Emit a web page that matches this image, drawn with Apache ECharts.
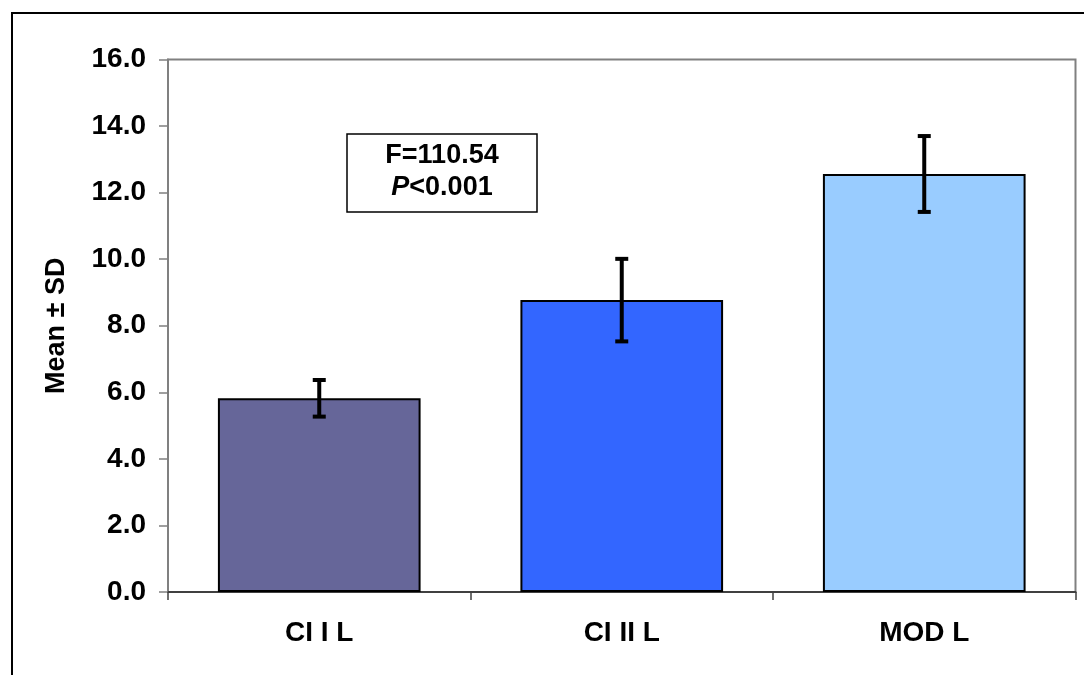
<!DOCTYPE html>
<html>
<head>
<meta charset="utf-8">
<script src="https://cdn.jsdelivr.net/npm/echarts@6/dist/echarts.min.js"></script>
<style>
html,body{margin:0;padding:0;background:#fff;}
#chart{width:1084px;height:675px;}
</style>
</head>
<body>
<div id="chart"></div>
<script>
const categories = ['CI I L', 'CI II L', 'MOD L'];
const means = [5.82, 8.77, 12.56];
const sds = [0.55, 1.24, 1.14];
const barColors = ['#666699', '#3366FF', '#99CCFF'];
const yTicks = [0, 2, 4, 6, 8, 10, 12, 14, 16];
const annotationLines = ['F=110.54', 'P<0.001'];

const chart = echarts.init(document.getElementById('chart'));
const FONT = 'Liberation Sans, Arial, sans-serif';

const errorData = categories.map((c, i) => [i, means[i] - sds[i], means[i] + sds[i]]);

const option = {
  animation: false,
  backgroundColor: '#fff',
  grid: {
    left: 168, top: 59.5, right: 8.5, bottom: 83,
    show: true, borderColor: '#808080', borderWidth: 2, backgroundColor: 'transparent'
  },
  xAxis: {
    type: 'category',
    data: categories,
    axisLine: { show: true, lineStyle: { color: '#404040', width: 2 } },
    axisTick: { show: true, alignWithLabel: false, length: 8, lineStyle: { color: '#404040', width: 1.5 } },
    axisLabel: { color: '#000', fontWeight: 'bold', fontSize: 28, fontFamily: FONT, margin: 27 }
  },
  yAxis: {
    type: 'value',
    min: yTicks[0], max: yTicks[yTicks.length - 1], interval: 2,
    name: 'Mean ± SD',
    nameLocation: 'middle',
    nameRotate: 90,
    nameGap: 98,
    nameTextStyle: { color: '#000', fontWeight: 'bold', fontSize: 27, fontFamily: FONT },
    axisLine: { show: true, lineStyle: { color: '#808080', width: 2 } },
    axisTick: { show: true, length: 9, lineStyle: { color: '#808080', width: 1.5 } },
    splitLine: { show: false },
    axisLabel: {
      color: '#000', fontWeight: 'bold', fontSize: 28, fontFamily: FONT, margin: 22,
      formatter: v => v.toFixed(1)
    }
  },
  series: [
    {
      type: 'bar',
      data: means.map((v, i) => ({ value: v, itemStyle: { color: barColors[i] } })),
      barCategoryGap: '33%',
      itemStyle: { borderColor: '#000', borderWidth: 2 }
    },
    {
      type: 'custom',
      data: errorData,
      z: 10,
      renderItem: function (params, api) {
        const x = api.value(0);
        const lo = api.coord([x, api.value(1)]);
        const hi = api.coord([x, api.value(2)]);
        const cap = 6.5;
        const st = { stroke: '#000', lineWidth: 4 };
        return {
          type: 'group',
          children: [
            { type: 'line', shape: { x1: hi[0], y1: hi[1], x2: lo[0], y2: lo[1] }, style: st },
            { type: 'line', shape: { x1: hi[0] - cap, y1: hi[1], x2: hi[0] + cap, y2: hi[1] }, style: st },
            { type: 'line', shape: { x1: lo[0] - cap, y1: lo[1], x2: lo[0] + cap, y2: lo[1] }, style: st }
          ]
        };
      }
    }
  ],
  graphic: [
    {
      type: 'rect',
      shape: { x: 12, y: 13, width: 1200, height: 800 },
      style: { fill: 'none', stroke: '#000', lineWidth: 2 },
      silent: true
    },
    {
      type: 'rect',
      shape: { x: 347, y: 134, width: 190, height: 78 },
      style: { fill: '#fff', stroke: '#000', lineWidth: 1.5 },
      z: 20
    },
    {
      type: 'text',
      x: 442, y: 156,
      z: 21,
      style: {
        text: annotationLines[0],
        fontSize: 27, fontWeight: 'bold', fontFamily: FONT, fill: '#000',
        align: 'center', verticalAlign: 'middle'
      }
    },
    {
      type: 'text',
      x: 442, y: 188,
      z: 21,
      style: {
        text: '{i|' + annotationLines[1].slice(0, 1) + '}{n|' + annotationLines[1].slice(1) + '}',
        rich: {
          i: { fontSize: 27, fontWeight: 'bold', fontStyle: 'italic', fontFamily: FONT, fill: '#000' },
          n: { fontSize: 27, fontWeight: 'bold', fontFamily: FONT, fill: '#000' }
        },
        align: 'center', verticalAlign: 'middle'
      }
    }
  ]
};
chart.setOption(option);
</script>
</body>
</html>
